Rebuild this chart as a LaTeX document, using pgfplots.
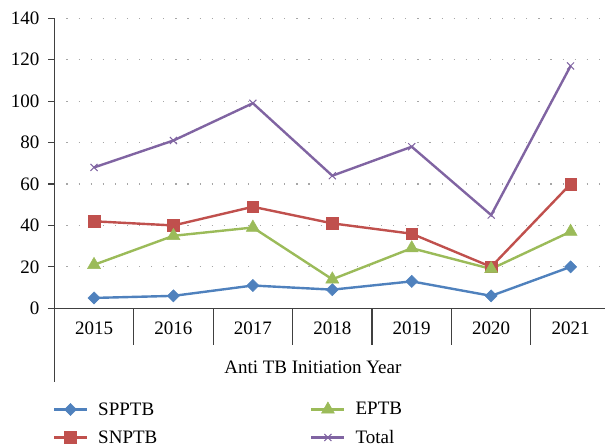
\documentclass[border=0pt]{standalone}
\usepackage{fontspec}
\setmainfont{Liberation Serif}
\usepackage{pgfplots}
\pgfplotsset{compat=1.18}
\definecolor{cblue}{HTML}{4F81BD}
\definecolor{cred}{HTML}{C0504D}
\definecolor{cgreen}{HTML}{9BBB59}
\definecolor{cpurple}{HTML}{8064A2}
\definecolor{axgray}{HTML}{404040}
\begin{document}
\begin{tikzpicture}[font=\fontsize{19}{22.8}\selectfont]
\useasboundingbox (0,0) rectangle (605pt,446pt);
\begin{axis}[
  at={(54.3pt,137.7pt)}, anchor=south west,
  scale only axis, width=556pt, height=290pt,
  xmin=-0.5, xmax=6.5, ymin=0, ymax=140,
  axis x line=bottom, axis y line=left,
  axis line style={-, line width=1.1pt, axgray},
  ytick={0,20,...,140},
  ytick align=outside,
  major tick length=6pt,
  ytick style={line width=1.1pt, axgray},
  xtick={0,1,2,3,4,5,6},
  xticklabels={2015,2016,2017,2018,2019,2020,2021},
  xtick style={draw=none},
  xticklabel style={anchor=center, yshift=-17pt},
  yticklabel style={anchor=east, xshift=-5.5pt},
  ymajorgrids,
  grid style={line width=1.2pt, gray!70, dash pattern=on 1.2pt off 10.9pt},
  /pgf/number format/assume math mode=true,
  xlabel={Anti TB Initiation Year},
  xlabel style={at={(axis description cs:0.465,0)}, anchor=center, yshift=-59pt},
  clip=false,
  legend columns=2,
  transpose legend,
  legend style={draw=none, fill=none, at={(axis description cs:-0.003,0)}, anchor=north west, yshift=-87pt,
     inner sep=0pt, column sep=0pt, row sep=0pt,
     nodes={inner sep=2pt, anchor=west, minimum height=28pt}},
  legend cell align=left,
  legend image code/.code={\draw[mark repeat=2,mark phase=2,#1] plot coordinates {(0pt,0pt) (16.5pt,0pt) (33pt,0pt)};},
  every axis plot/.append style={line width=2.4pt},
]
\addplot[cblue, mark=square*, mark options={rotate=45, mark size=4.3pt, line width=0.5pt}] coordinates {(0,5) (1,6) (2,11) (3,9) (4,13) (5,6) (6,20)};
\addlegendentry{\hspace{8pt}\makebox[210pt][l]{SPPTB}}
\addplot[cred, mark=square*, mark options={mark size=5.8pt, line width=0.5pt}] coordinates {(0,42) (1,40) (2,49) (3,41) (4,36) (5,20) (6,60)};
\addlegendentry{\hspace{8pt}\makebox[210pt][l]{SNPTB}}
\addplot[cgreen, mark=triangle*, mark options={mark size=7.5pt, line width=0.5pt}] coordinates {(0,21) (1,35) (2,39) (3,14) (4,29) (5,19) (6,37)};
\addlegendentry{\hspace{8pt}EPTB}
\addplot[cpurple, mark=x, mark options={mark size=5pt, line width=1pt}] coordinates {(0,68) (1,81) (2,99) (3,64) (4,78) (5,45) (6,117)};
\addlegendentry{\hspace{8pt}Total}
\draw[line width=1.1pt, axgray] (axis cs:-0.5,0) -- ++(0pt,-74pt);
\pgfplotsinvokeforeach{0.5,1.5,2.5,3.5,4.5,5.5}{\draw[line width=1.1pt, axgray] (axis cs:#1,0) -- ++(0pt,-37pt);}
\end{axis}
\end{tikzpicture}
\end{document}
